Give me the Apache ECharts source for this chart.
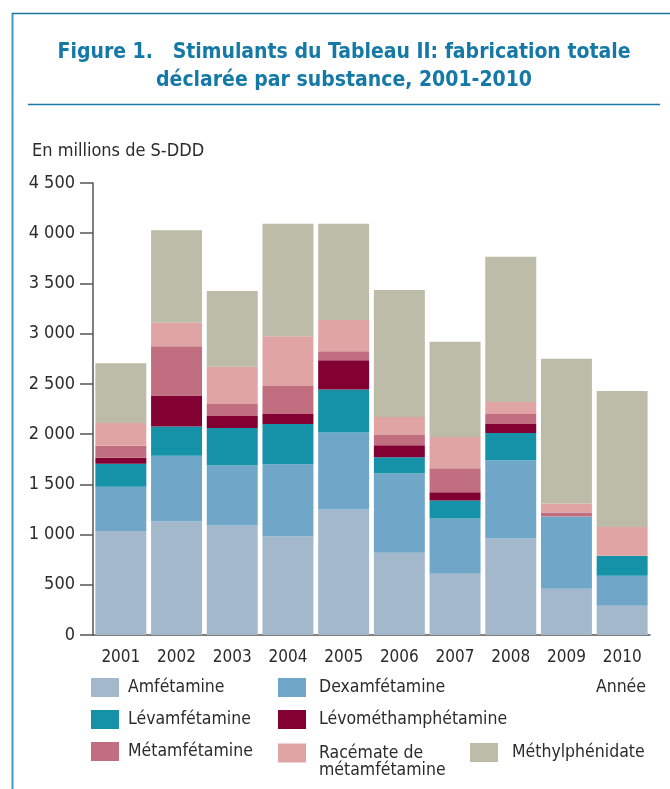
<!DOCTYPE html>
<html><head><meta charset="utf-8">
<script src="https://cdn.jsdelivr.net/npm/echarts@6/dist/echarts.min.js"></script>
<style>html,body{margin:0;padding:0;background:#fff}#c{width:670px;height:789px}</style>
</head><body><div id="c"></div>
<script>
const years = ['2001','2002','2003','2004','2005','2006','2007','2008','2009','2010'];
const amfetamine = [1035, 1130, 1090, 980, 1250, 820, 610, 960, 460, 290];
const dexamfetamine = [440, 655, 600, 720, 765, 790, 550, 780, 720, 300];
const levamfetamine = [230, 290, 370, 400, 430, 160, 180, 270, 0, 200];
const levomethamphetamine = [60, 310, 120, 100, 290, 120, 80, 90, 0, 0];
const metamfetamine = [120, 490, 120, 280, 90, 100, 240, 100, 40, 0];
const racemate = [225, 235, 370, 495, 310, 180, 310, 120, 90, 285];
const methylphenidate = [595, 920, 755, 1120, 960, 1265, 950, 1445, 1440, 1355];
const yTicks = [0, 500, 1000, 1500, 2000, 2500, 3000, 3500, 4000, 4500];

const FONT = '"Liberation Sans Narrow", "DejaVu Sans Condensed", sans-serif';
const TXT = '#2b2b2b';
const names = ['Amfétamine','Dexamfétamine','Lévamfétamine','Lévométhamphétamine','Métamfétamine','Racémate de métamfétamine','Méthylphénidate'];
const colors = ['#a4b8cc','#70a7c9','#1692a8','#820032','#c06e80','#e0a4a4','#bcbca8'];
const values = [amfetamine, dexamfetamine, levamfetamine, levomethamphetamine, metamfetamine, racemate, methylphenidate];

const chart = echarts.init(document.getElementById('c'), null, {renderer:'canvas'});
const LFS = 17.5;
function ts(pl, extra){ return Object.assign({fontFamily:FONT, fontSize:LFS, lineHeight:19, color:TXT, padding:[0,0,0,pl]}, extra||{}); }
const legendBase = {
  orient:'vertical', itemWidth:28, itemHeight:19, itemGap:13,
  icon:'rect', selectedMode:false, padding:0
};
chart.setOption({
  animation:false,
  grid:{left:93, right:20, top:183, bottom:154, containLabel:false},
  xAxis:{
    type:'category', data:years,
    axisLine:{lineStyle:{color:'#555', width:1.5}},
    axisTick:{length:10, lineStyle:{color:'#555', width:1.5}},
    axisLabel:{fontFamily:FONT, fontSize:17, color:TXT, margin:14, interval:0}
  },
  yAxis:{
    type:'value', min:0, max:4500, interval:500,
    name:'En millions de S-DDD', nameLocation:'end', nameGap:0,
    nameTextStyle:{fontFamily:FONT, fontSize:18, color:TXT, align:'left', verticalAlign:'bottom', padding:[0,0,23,-61]},
    axisLine:{show:true, lineStyle:{color:'#555', width:1.5}},
    axisTick:{show:true, length:13, lineStyle:{color:'#555', width:1.5}},
    splitLine:{show:false},
    axisLabel:{fontFamily:FONT, fontSize:18, color:TXT, margin:18,
      formatter:v => yTicks.includes(v) ? String(v).replace(/\B(?=(\d{3})+(?!\d))/g,' ') : ''}
  },
  legend:[
    Object.assign({}, legendBase, {left:91, top:678, data:[names[0], names[2], names[4]], textStyle:ts(4)}),
    Object.assign({}, legendBase, {left:278, top:678, data:[names[1], names[3]], textStyle:ts(8)}),
    Object.assign({}, legendBase, {left:278, top:727, data:[names[5]],
      formatter:()=> '\nRacémate de\nmétamfétamine',
      textStyle:ts(8, {lineHeight:17})}),
    Object.assign({}, legendBase, {left:470, top:743, data:[names[6]], textStyle:ts(9)})
  ],
  series: names.map((n,i)=>({
    name:n, type:'bar', stack:'total', data:values[i], barCategoryGap:'8.5%',
    itemStyle:{color:colors[i]}, emphasis:{disabled:true}
  })),
  graphic:[
    {type:'line', shape:{x1:12.5, y1:13, x2:12.5, y2:789}, style:{stroke:'#3d9cc9', lineWidth:2}},
    {type:'line', shape:{x1:12, y1:13.5, x2:670, y2:13.5}, style:{stroke:'#1f77a3', lineWidth:1.5}},
    {type:'line', shape:{x1:28, y1:104.5, x2:660, y2:104.5}, style:{stroke:'#1a7aa8', lineWidth:1.5}},
    {type:'text', x:344, y:53, style:{text:'Figure 1.   Stimulants du Tableau II: fabrication totale', textAlign:'center', textVerticalAlign:'middle', fontFamily:FONT, fontWeight:'bold', fontSize:21, fill:'#1479a6'}},
    {type:'text', x:344, y:81, style:{text:'déclarée par substance, 2001-2010', textAlign:'center', textVerticalAlign:'middle', fontFamily:FONT, fontWeight:'bold', fontSize:21, fill:'#1479a6'}},
    {type:'text', x:646, y:687, style:{text:'Année', textAlign:'right', textVerticalAlign:'middle', fontFamily:FONT, fontSize:LFS, fill:TXT}}
  ]
});
</script></body></html>
